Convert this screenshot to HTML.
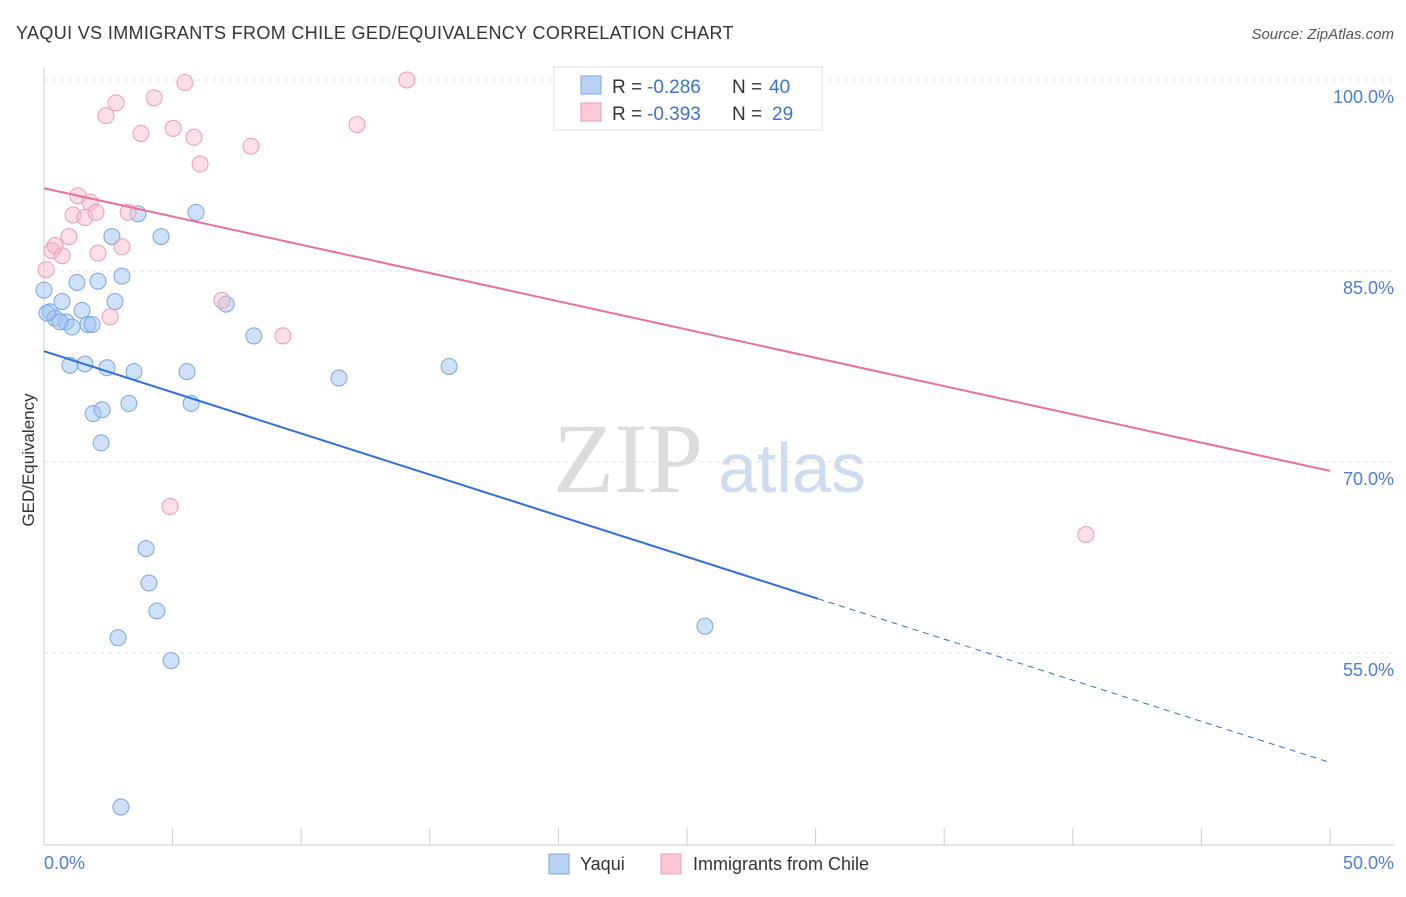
<!DOCTYPE html>
<html><head><meta charset="utf-8"><style>
body{margin:0;background:#fff;font-family:"Liberation Sans",sans-serif}
</style></head><body>
<svg width="1406" height="892" xmlns="http://www.w3.org/2000/svg">
<text x="16" y="39" font-size="18" fill="#333" letter-spacing="0.35">YAQUI VS IMMIGRANTS FROM CHILE GED/EQUIVALENCY CORRELATION CHART</text>
<text x="1394" y="39" font-size="15" fill="#555" font-style="italic" text-anchor="end">Source: ZipAtlas.com</text>
<g id="grid"></g>
<text x="553" y="492" font-size="100" fill="#dcdcdc" font-family="Liberation Serif">ZIP</text>
<text x="718" y="492" font-size="70" fill="#cddcf0">atlas</text>
<g id="marks"></g>
<text x="34" y="460" font-size="17" fill="#333" text-anchor="middle" transform="rotate(-90 34 460)">GED/Equivalency</text>
<text x="44" y="869" font-size="18" fill="#4a7fd4">0.0%</text>
<text x="1394" y="869" font-size="18" fill="#4a7fd4" text-anchor="end">50.0%</text>
<g>
<rect x="554" y="67" width="268" height="63" fill="#fff" stroke="#ddd"/>
<rect x="581" y="76" width="20" height="18" fill="#b9d2f4" stroke="#7aa6e6"/>
<rect x="581" y="103" width="20" height="18" fill="#fbc8d6" stroke="#ef9ab4"/>
<text x="612" y="93" font-size="19" fill="#333">R =</text>
<text x="647" y="93" font-size="19" fill="#3b74d0">-0.286</text>
<text x="732" y="93" font-size="19" fill="#333">N =</text>
<text x="769" y="93" font-size="19" fill="#3b74d0">40</text>
<text x="612" y="120" font-size="19" fill="#333">R =</text>
<text x="647" y="120" font-size="19" fill="#3b74d0">-0.393</text>
<text x="732" y="120" font-size="19" fill="#333">N =</text>
<text x="772" y="120" font-size="19" fill="#3b74d0">29</text>
</g>
<g>
<rect x="549" y="854" width="20" height="20" fill="#b9d2f4" stroke="#7aa6e6"/>
<text x="580" y="870" font-size="18" fill="#333">Yaqui</text>
<rect x="661" y="854" width="20" height="20" fill="#fbc8d6" stroke="#ef9ab4"/>
<text x="693" y="870" font-size="18" fill="#333">Immigrants from Chile</text>
</g>
</svg>
<script>
const yTicks=[100,85,70,55];
const yTickLabels=["100.0%","85.0%","70.0%","55.0%"];
const yaquiX=[0.23,0.43,0.70,0.86,1.09,1.28,1.48,1.71,1.87,2.10,2.64,2.76,3.03,3.65,4.55,5.91,7.08,8.16,1.01,1.59,2.45,3.50,1.91,2.26,3.30,2.22,5.56,5.72,11.47,15.75,3.97,4.08,4.39,2.88,4.94,25.70,2.99,0,0.12,0.62];
const yaquiY=[81.8,81.3,82.6,81.0,80.6,84.1,81.9,80.8,80.8,84.2,87.7,82.6,84.6,89.5,87.7,89.6,82.4,79.9,77.6,77.7,77.4,77.1,73.8,74.1,74.6,71.5,77.1,74.6,76.6,77.5,63.2,60.5,58.3,56.2,54.4,57.1,42.9,83.5,81.7,81.0];
const chileX=[5.48,14.11,2.80,4.28,2.41,3.77,5.02,5.83,6.07,8.05,12.17,1.32,1.79,1.13,1.59,2.02,3.27,0.97,2.10,3.03,0.31,0.70,0.08,6.92,2.57,9.29,4.90,40.51,0.43];
const chileY=[99.8,100,98.2,98.6,97.2,95.8,96.2,95.5,93.4,94.8,96.5,90.9,90.4,89.4,89.2,89.6,89.6,87.7,86.4,86.9,86.6,86.2,85.1,82.7,81.4,79.9,66.5,64.3,87.0];
const yaquiTrend=[78.7,46.4];
const chileTrend=[91.5,69.3];
const NS="http://www.w3.org/2000/svg";
const X=v=>44+v/50*1286, Y=v=>80+(100-v)*12.733;
function mk(t,a,p){const e=document.createElementNS(NS,t);for(const k in a)e.setAttribute(k,a[k]);p.appendChild(e);return e;}
const grid=document.getElementById('grid'),marks=document.getElementById('marks');
yTicks.forEach((t,i)=>{
 const l=mk('line',{x1:44,x2:1394,y1:Y(t),y2:Y(t),stroke:'#e2e2e2','stroke-dasharray':'4 4'},grid);
 
 
 const tx=mk('text',{x:1394,y:Y(t)+23,'font-size':18,fill:'#4a7fd4','text-anchor':'end'},grid);
 tx.textContent=yTickLabels[i];
 
 
});
const ax=mk('line',{x1:44,x2:1394,y1:845,y2:845,stroke:'#ccc'},grid);


const ay=mk('line',{x1:44,x2:44,y1:68,y2:845,stroke:'#ccc'},grid);


for(let i=0;i<=10;i++){const t=mk('line',{x1:X(i*5),x2:X(i*5),y1:828,y2:845,stroke:'#ccc'},grid);
 
 }
yaquiX.forEach((x,i)=>{const c=mk('circle',{cx:X(x),cy:Y(yaquiY[i]),r:8,fill:'rgba(160,195,240,0.5)',stroke:'#7aa6e6','stroke-width':1},marks);
 
 });
chileX.forEach((x,i)=>{const c=mk('circle',{cx:X(x),cy:Y(chileY[i]),r:8,fill:'rgba(250,185,205,0.45)',stroke:'#ef9ab4','stroke-width':1},marks);
 
 });
const yb=v=>yaquiTrend[0]+(yaquiTrend[1]-yaquiTrend[0])*v/50;
const l1=mk('line',{x1:X(0),y1:Y(yb(0)),x2:X(30.1),y2:Y(yb(30.1)),stroke:'#2f6fd6','stroke-width':2},marks);


const l2=mk('line',{x1:X(30.1),y1:Y(yb(30.1)),x2:X(50),y2:Y(yb(50)),stroke:'#2f6fd6','stroke-width':1,'stroke-dasharray':'6 5'},marks);


const l3=mk('line',{x1:X(0),y1:Y(chileTrend[0]),x2:X(50),y2:Y(chileTrend[1]),stroke:'#e8709a','stroke-width':2},marks);


</script>
</body></html>
